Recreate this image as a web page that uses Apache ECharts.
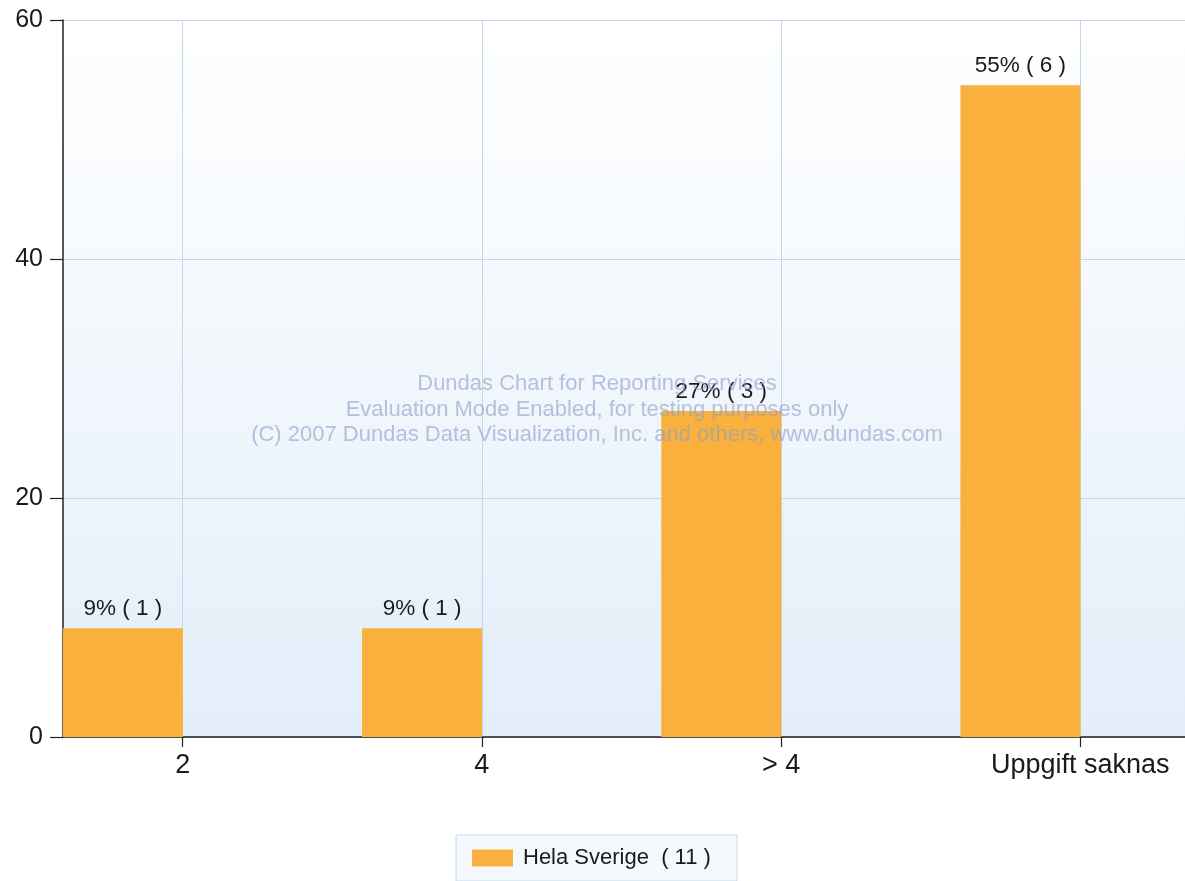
<!DOCTYPE html>
<html>
<head>
<meta charset="utf-8">
<script src="https://cdn.jsdelivr.net/npm/echarts@6/dist/echarts.min.js"></script>
<style>
html,body{margin:0;padding:0;background:#fff;}
#chart{width:1185px;height:881px;}
</style>
</head>
<body>
<div id="chart"></div>
<script>
// ---- data ----
const categories = ['2', '4', '> 4', 'Uppgift saknas'];
const percents = [9.09, 9.09, 27.27, 54.55];
const counts = [1, 1, 3, 6];
const seriesName = 'Hela Sverige  ( 11 )';
const yTicks = [0, 20, 40, 60];
const watermark = [
  'Dundas Chart for Reporting Services',
  'Evaluation Mode Enabled, for testing purposes only',
  '(C) 2007 Dundas Data Visualization, Inc. and others, www.dundas.com'
];

// category positions 1..n on a value axis; bar sits left of the category centre
const catPos = categories.map((c, i) => i + 1);
const barOffset = 0.2;
const barData = percents.map((v, i) => [catPos[i] - barOffset, v]);

const FONT = '"Liberation Sans", Arial, Helvetica, sans-serif';
const chart = echarts.init(document.getElementById('chart'));

const option = {
  animation: false,
  backgroundColor: '#ffffff',
  textStyle: { fontFamily: FONT },
  grid: {
    left: 63, top: 20, width: 1122, height: 717,
    outerBoundsMode: 'none',
    show: true,
    borderWidth: 0,
    backgroundColor: new echarts.graphic.LinearGradient(0, 0, 0, 1, [
      { offset: 0, color: '#ffffff' },
      { offset: 1, color: '#e3eef9' }
    ])
  },
  xAxis: {
    type: 'value',
    min: 0.6,
    max: 4.35,
    axisLine: { show: true, onZero: false, lineStyle: { color: '#222', width: 1.5 } },
    axisTick: { show: true, length: 10, customValues: catPos, lineStyle: { color: '#222', width: 1.2 } },
    axisLabel: {
      customValues: catPos,
      margin: 15,
      fontSize: 27,
      color: '#1a1a1a',
      fontFamily: FONT,
      formatter: v => categories[Math.round(v) - 1] || ''
    },
    splitLine: { show: true, lineStyle: { color: '#c2d7ee', width: 1 } }
  },
  yAxis: {
    type: 'value',
    min: yTicks[0],
    max: yTicks[yTicks.length - 1],
    interval: 20,
    axisLine: { show: true, lineStyle: { color: '#222', width: 1.5 } },
    axisTick: { show: true, length: 13, lineStyle: { color: '#222', width: 1.2 } },
    axisLabel: { margin: 20, fontSize: 25, color: '#1a1a1a', fontFamily: FONT },
    splitLine: { show: true, lineStyle: { color: '#c2d7ee', width: 1 } }
  },
  legend: {
    left: 456,
    top: 835,
    padding: [12, 26, 12, 16],
    itemWidth: 41,
    itemHeight: 17,
    itemGap: 10,
    icon: 'rect',
    borderColor: '#c5d9ef',
    borderWidth: 1,
    backgroundColor: '#f5f9fd',
    textStyle: { fontSize: 22, color: '#1a1a1a', fontFamily: FONT, padding: [0, 0, 0, 5] },
    data: [seriesName]
  },
  series: [{
    name: seriesName,
    type: 'bar',
    barWidth: 120,
    data: barData,
    itemStyle: { color: '#f9b03d' },
    label: {
      show: true,
      position: 'top',
      distance: 8,
      fontSize: 22.5,
      color: '#1a1a1a',
      fontFamily: FONT,
      formatter: p => Math.round(percents[p.dataIndex]) + '% ( ' + counts[p.dataIndex] + ' )'
    }
  }],
  graphic: watermark.map((t, i) => ({
    type: 'text',
    x: 597,
    y: 384 + i * 25.5,
    z: 100,
    silent: true,
    style: {
      text: t,
      align: 'center',
      verticalAlign: 'middle',
      font: '22px ' + FONT,
      fill: 'rgba(140,160,200,0.62)'
    }
  }))
};
chart.setOption(option);
</script>
</body>
</html>
